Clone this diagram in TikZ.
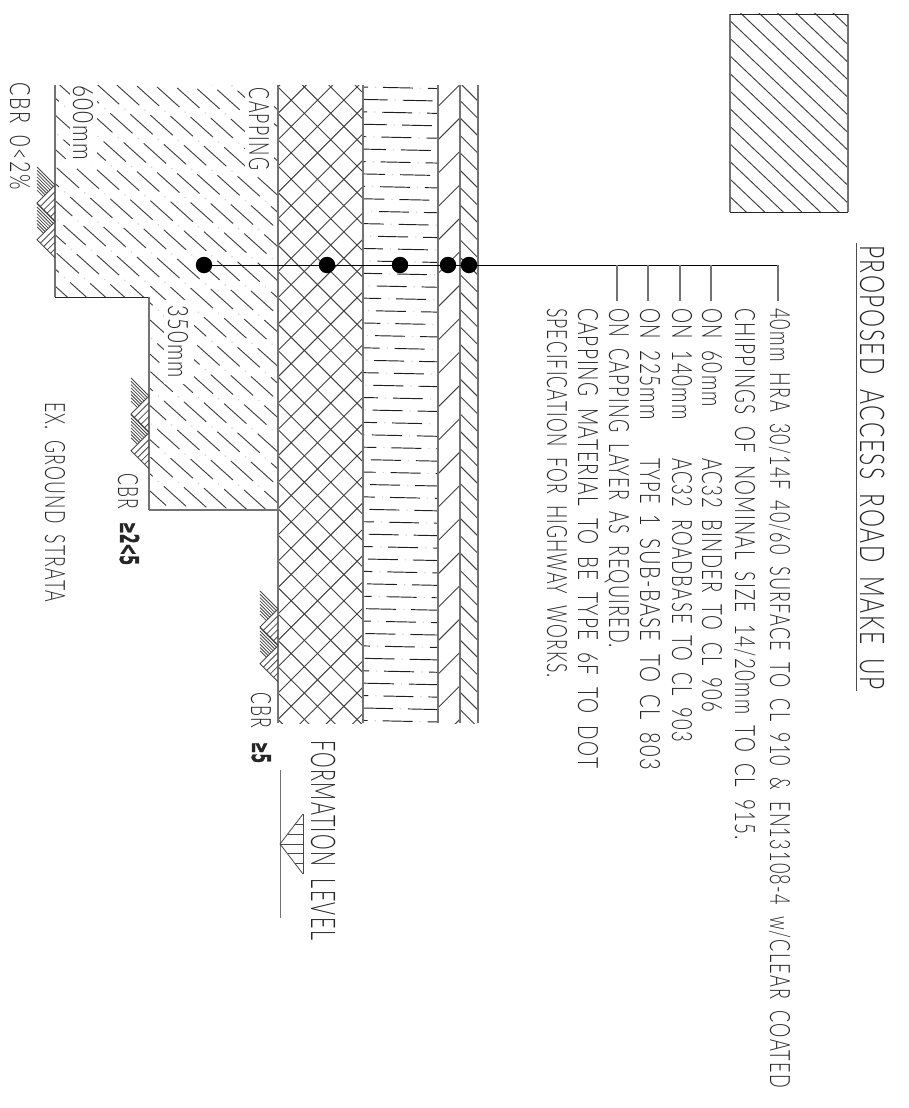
\documentclass[tikz,border=0pt]{standalone}
\usepackage{fontspec}
\usepackage{graphicx}
\setmainfont{Lato Light}[LetterSpace=7]
\newfontfamily\boldf[FakeBold=1.6]{DejaVu Sans Bold}
\tikzset{
  txt/.style={rotate=-90,anchor=base west,inner sep=0pt,outer sep=0pt,text=black!85},
  edge/.style={draw=black!55,line width=1.4pt},
  hatch/.style={draw=black!75,line width=0.95pt},
  thin hatch/.style={draw=black!72,line width=0.8pt},
  leader/.style={draw=black,line width=0.9pt},
  tick/.style={draw=black!55,line width=1.1pt},
  blob/.style={circle,fill=black,inner sep=0pt,minimum size=16.5pt},
}
\newcommand\lab[6][28pt]{\node[txt] (#2) at (#3,#4) {\fontsize{#1}{#1}\selectfont\spaceskip=.62em\relax\resizebox{#5pt}{\height}{#6}};}
\newcommand\strata[2]{%
  \begin{scope}[shift={(#1,#2)}]
    \foreach \i in {0,...,7}{\pgfmathsetmacro\yy{3.3*\i}\pgfmathsetmacro\tt{18-1.65*\i}
      \draw[thin hatch] (-18,\yy) -- (-18+\tt,\yy+\tt);}
    \draw[thin hatch] (0,18) -- (-18,36) -- (0,54);
    \foreach \s in {3.4,6.8,10.2,13.6}{\pgfmathsetmacro\ya{36+\s}\pgfmathsetmacro\yb{18+2*\s}
      \draw[thin hatch] (-18+\s,\ya) -- (0,\yb);}
  \end{scope}}
\begin{document}
\begin{tikzpicture}[x=1pt,y=-1pt]
\useasboundingbox (0,0) rectangle (908,1108);
% top hatched block
\begin{scope}
  \clip (730,14) rectangle (848,212);
  \foreach \c in {-7,...,11}{\pgfmathsetmacro\a{20.7+17.6*\c}
    \draw[hatch] (730,\a) -- (848,\a+112);}
\end{scope}
\draw[edge] (730,212) -- (730,14);
\draw[edge] (848,14) -- (848,212);
\draw[draw=black!85,line width=0.9pt] (730,14) -- (848,14) (730,212) -- (848,212);
% capping
\begin{scope}
  \clip (55,85) -- (55,297) -- (149,297) -- (149,510) -- (278,510) -- (278,85) -- cycle;
  \foreach \c in {-16,...,40}{\pgfmathsetmacro\a{85+17.1*\c-60}
    \pgfmathsetmacro\ph{mod(\c*27,45)}
    \draw[hatch,dash pattern=on 30pt off 15pt,dash phase=\ph pt] (50,\a) -- (285,\a+211);
    \draw[draw=black!18,line width=1.2pt,dash pattern=on 1.2pt off 43.8pt,dash phase=\ph pt-37pt] (50,\a) -- (285,\a+211);}
  \fill[white] (70,80) rectangle (97,165);
  \fill[white] (245,80) rectangle (274,176);
  \fill[white] (164,300) rectangle (194,384);
\end{scope}
% cross hatch
\begin{scope}
  \clip (278,85) rectangle (363,723);
  \foreach \c in {-4,...,28}{\pgfmathsetmacro\a{87+26.35*\c}
    \draw[hatch] (278,\a) -- (363,\a+85);
    \draw[hatch] (278,\a) -- (363,\a-85);}
\end{scope}
% dash-dot layer
\begin{scope}
  \clip (363,85) rectangle (438,723);
  \foreach \i in {0,...,51}{\pgfmathsetmacro\a{87+12.42*\i}
    \pgfmathsetmacro\ph{mod(iseven(\i)*20+\i*0.4+5,45)}
    \draw[draw=black!88,line width=0.95pt,dash pattern=on 30pt off 15pt,dash phase=\ph pt] (363,\a) -- (440,\a+1.6);
    \draw[draw=black!18,line width=1.2pt,dash pattern=on 1.2pt off 43.8pt,dash phase=\ph pt-37pt] (363,\a) -- (440,\a+1.6);}
\end{scope}
% slanted layers
\begin{scope}
  \clip (438,85) rectangle (460,723);
  \foreach \c in {0,...,20}{\pgfmathsetmacro\a{106.5+33.4*\c}
    \draw[hatch] (438,\a) -- (460,\a-22);}
\end{scope}
\begin{scope}
  \clip (460,85) rectangle (478,723);
  \foreach \c in {-2,...,38}{\pgfmathsetmacro\a{100.5+17.4*\c}
    \draw[hatch] (460,\a) -- (478,\a+18);}
\end{scope}
% layer edges
\draw[edge] (278,85) -- (278,723);
\draw[edge] (363,85) -- (363,723);
\draw[edge] (438,85) -- (438,723);
\draw[edge] (460,85) -- (460,723);
\draw[edge] (478,85) -- (478,723);
\draw[edge] (55,85) -- (55,297);
\draw[draw=black!85,line width=0.9pt] (55,297) -- (149,297);
\draw[edge] (149,297) -- (149,510);
\draw[edge] (149,510) -- (278,510);
% ground symbols
\strata{55}{167}\strata{55}{203.7}
\strata{149}{378}\strata{149}{414.7}
\strata{278}{591}\strata{278}{627.7}
% formation level symbol
\draw[edge,line width=1pt] (280,770) -- (280,918);
\draw[thin hatch] (303,814) -- (280,844) -- (303,874);
\draw[thin hatch] (303,814) -- (303,874);
\foreach \yy/\xx in {824/295,834/288,844/280,853/288,863/295}
  \draw[thin hatch] (\xx,\yy) -- (303,\yy);
% leader
\node[blob] (d1) at (204,265) {};
\node[blob] (d2) at (327,265) {};
\node[blob] (d3) at (400,265) {};
\node[blob] (d4) at (448,265) {};
\node[blob] (d5) at (469,265) {};
\coordinate (le) at (778,265);
\coordinate (t1) at (617,265); \coordinate (t1e) at (617,301);
\coordinate (t2) at (648,265); \coordinate (t2e) at (648,301);
\coordinate (t3) at (680,265); \coordinate (t3e) at (680,301);
\coordinate (t4) at (711,265); \coordinate (t4e) at (711,301);
\coordinate (t5e) at (778,301);
\draw[leader] (d1) -- (le);
\draw[tick] (t1) -- (t1e);
\draw[tick] (t2) -- (t2e);
\draw[tick] (t3) -- (t3e);
\draw[tick] (t4) -- (t4e);
\draw[tick] (le) -- (t5e);
% texts
\lab[34pt]{title}{860}{245}{445}{PROPOSED ACCESS ROAD MAKE UP}
\coordinate (ula) at (856,243); \coordinate (ulb) at (856,691);
\draw[draw=black!70,line width=1pt] (ula) -- (ulb);
\lab{l1}{770}{308}{780}{40mm HRA 30/14F 40/60 SURFACE TO CL 910 \& EN13108-4 w/CLEAR COATED}
\lab{l2}{735}{308}{532}{CHIPPINGS OF NOMINAL SIZE 14/20mm TO CL 915.}
\lab{l3a}{702}{308}{99}{ON 60mm}
\lab{l3b}{702}{458}{254}{AC32 BINDER TO CL 906}
\lab{l4a}{672}{308}{112}{ON 140mm}
\lab{l4b}{672}{458}{284}{AC32 ROADBASE TO CL 903}
\lab{l5a}{640}{308}{112}{ON 225mm}
\lab{l5b}{640}{458}{46}{TYPE}
\lab{l5c}{640}{514}{256}{1 SUB-BASE TO CL 803}
\lab{l6}{609}{308}{340}{ON CAPPING LAYER AS REQUIRED.}
\lab{l7}{578}{308}{460}{CAPPING MATERIAL TO BE TYPE 6F TO DOT}
\lab{l8}{547}{308}{370}{SPECIFICATION FOR HIGHWAY WORKS.}
\lab{ex}{45}{402}{200}{EX. GROUND STRATA}
\lab{c0}{10}{83}{107}{CBR 0<2\%}
\lab{mm6}{73}{85}{75}{600mm}
\lab{cap}{249}{88}{82}{CAPPING}
\lab{mm3}{168}{305}{73}{350mm}
\lab{c1}{118}{473}{36}{CBR}
\node[txt] (c1b) at (120,522) {\boldf\fontsize{26pt}{26pt}\selectfont\resizebox{43pt}{\height}{≥2<5}};
\lab{c2}{251}{692}{36}{CBR}
\node[txt] (c2b) at (252,742) {\boldf\fontsize{26pt}{26pt}\selectfont\resizebox{21pt}{\height}{≥5}};
\lab[34pt]{form}{311}{740}{200}{FORMATION LEVEL}
\end{tikzpicture}
\end{document}
